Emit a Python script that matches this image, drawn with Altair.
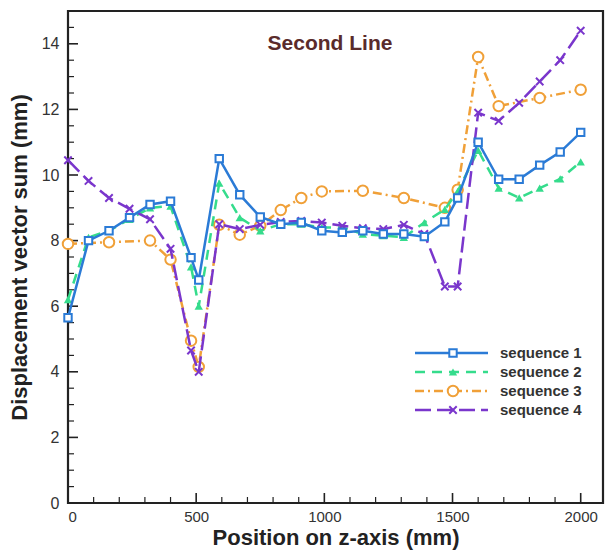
import altair as alt
import pandas as pd

# ---------------- data ----------------
Z_NODES = [0, 80, 160, 240, 320, 400, 480, 510, 590, 670, 750, 830, 910, 990,
           1070, 1150, 1230, 1310, 1390, 1470, 1520, 1600, 1680, 1760, 1840, 1920, 2000]
SEQ1 = [5.65, 8.0, 8.3, 8.7, 9.1, 9.2, 7.48, 6.8, 10.5, 9.4, 8.72, 8.5, 8.55, 8.3,
        8.25, 8.3, 8.2, 8.2, 8.12, 8.57, 9.3, 11.0, 9.87, 9.87, 10.3, 10.7, 11.3]
SEQ2 = [6.2, 8.1, 8.3, 8.65, 9.0, 9.05, 7.2, 6.0, 9.75, 8.7, 8.3, 8.5, 8.5, 8.4,
        8.4, 8.2, 8.15, 8.1, 8.55, 8.95, 9.5, 10.75, 9.6, 9.3, 9.6, 9.88, 10.4]
Z_SEQ3 = [0, 160, 320, 400, 480, 510, 590, 670, 750, 830, 910, 990, 1150, 1310,
          1470, 1520, 1600, 1680, 1840, 2000]
SEQ3 = [7.9, 7.95, 8.0, 7.42, 4.95, 4.15, 8.48, 8.18, 8.45, 8.93, 9.3, 9.5, 9.52, 9.3,
        9.0, 9.55, 13.6, 12.1, 12.35, 12.6]
SEQ4 = [10.45, 9.82, 9.3, 8.97, 8.65, 7.75, 4.65, 4.0, 8.5, 8.35, 8.48, 8.57, 8.6, 8.55,
        8.45, 8.38, 8.35, 8.48, 8.2, 6.6, 6.6, 11.9, 11.65, 12.2, 12.85, 13.5, 14.4]

NAMES = ["sequence 1", "sequence 2", "sequence 3", "sequence 4"]
TITLE = "Second Line"
X_TICKS = [0, 500, 1000, 1500, 2000]
Y_TICKS = [0, 2, 4, 6, 8, 10, 12, 14]
X_MINOR = [v for v in range(100, 2001, 100) if v % 500]
Y_MINOR = [v / 2 for v in range(1, 30) if v % 4]

# ---------------- styling ----------------
FONT = "Liberation Sans"
W, H = 535, 492
INK = "#222222"

STYLES = [
    dict(color="#2b7bd6", dash=None, shape="square", filled=False, size=55),
    dict(color="#35dc8c", dash=[10, 7], shape="triangle-up", filled=True, size=70),
    dict(color="#f0a038", dash=[9, 4, 2, 4], shape="circle", filled=False, size=110),
    dict(color="#7a36cc", dash=[16, 6], shape="M-1,-1L1,1M-1,1L1,-1", filled=False, size=55),
]

xscale = alt.Scale(domain=[0, 2087], nice=False, zero=False)
yscale = alt.Scale(domain=[0, 15], nice=False, zero=False)

X_ENC = alt.X("z:Q", scale=xscale, axis=alt.Axis(
    values=X_TICKS, format="d", ticks=False, domain=False, grid=False,
    labelFont=FONT, labelFontSize=15, labelColor="#333", labelPadding=6,
    title="Position on z-axis (mm)", titleFont=FONT, titleFontSize=22,
    titleFontWeight="bold", titleColor="#222", titlePadding=3))
Y_ENC = alt.Y("d:Q", scale=yscale, axis=alt.Axis(
    values=Y_TICKS, format="d", ticks=False, domain=False, grid=False,
    labelFont=FONT, labelFontSize=16, labelColor="#333", labelPadding=9,
    title="Displacement vector sum (mm)", titleFont=FONT, titleFontSize=22,
    titleFontWeight="bold", titleColor="#222", titlePadding=10))


def line_kwargs(st):
    kw = dict(color=st["color"], strokeWidth=2.5, clip=False)
    if st["dash"]:
        kw["strokeDash"] = st["dash"]
    return kw


def point_kwargs(st):
    kw = dict(shape=st["shape"], size=st["size"], strokeWidth=2, opacity=1, clip=False)
    if st["filled"]:
        kw.update(filled=True, color=st["color"])
    else:
        kw.update(filled=False, stroke=st["color"])
        if st["shape"] in ("square", "circle"):
            kw.update(fill="white", fillOpacity=1)
    return kw


series = [(Z_NODES, SEQ1), (Z_NODES, SEQ2), (Z_SEQ3, SEQ3), (Z_NODES, SEQ4)]
draw_order = [2, 1, 3, 0]

layers = []
# tick marks (inward)
layers.append(alt.Chart(pd.DataFrame({"z": X_TICKS})).mark_rule(color=INK, strokeWidth=1.6)
              .encode(x=X_ENC, y=alt.value(H), y2=alt.value(H - 10)))
layers.append(alt.Chart(pd.DataFrame({"z": X_MINOR})).mark_rule(color=INK, strokeWidth=1.2)
              .encode(x=X_ENC, y=alt.value(H), y2=alt.value(H - 6)))
layers.append(alt.Chart(pd.DataFrame({"d": Y_TICKS})).mark_rule(color=INK, strokeWidth=1.6)
              .encode(y=Y_ENC, x=alt.value(0), x2=alt.value(10)))
layers.append(alt.Chart(pd.DataFrame({"d": Y_MINOR})).mark_rule(color=INK, strokeWidth=1.2)
              .encode(y=Y_ENC, x=alt.value(0), x2=alt.value(6)))

for i in draw_order:
    zs, ds = series[i]
    st = STYLES[i]
    df = pd.DataFrame({"z": zs, "d": ds})
    base = alt.Chart(df)
    layers.append(base.mark_line(**line_kwargs(st)).encode(x=X_ENC, y=Y_ENC))
    layers.append(base.mark_point(**point_kwargs(st)).encode(x=X_ENC, y=Y_ENC))

# title annotation
one = pd.DataFrame({"a": [0]})
layers.append(alt.Chart(one).mark_text(text=TITLE, font=FONT, fontSize=21, fontWeight="bold",
                                       color="#5a2b2b", baseline="middle", align="center")
              .encode(x=alt.value(262), y=alt.value(33)))

# manual legend
LEG_X0, LEG_X1, LEG_MID, LEG_TXT = 347, 420, 385, 432
LEG_Y = [342, 361, 380, 399]
for i, name in enumerate(NAMES):
    st = STYLES[i]
    yy = LEG_Y[i]
    layers.append(alt.Chart(one).mark_rule(**line_kwargs(st))
                  .encode(x=alt.value(LEG_X0), x2=alt.value(LEG_X1), y=alt.value(yy)))
    layers.append(alt.Chart(one).mark_point(**point_kwargs(st))
                  .encode(x=alt.value(LEG_MID), y=alt.value(yy)))
    layers.append(alt.Chart(one).mark_text(text=name, font=FONT, fontSize=15, fontWeight="bold",
                                           color="#333", align="left", baseline="middle")
                  .encode(x=alt.value(LEG_TXT), y=alt.value(yy)))

chart = alt.layer(*layers).properties(
    width=W, height=H,
    autosize=alt.AutoSizeParams(type="none"),
    padding={"left": 68, "top": 11, "right": 3, "bottom": 48},
    background="white",
).configure_view(stroke=INK, strokeWidth=2.2)

chart.save("out.html", embed_options={"renderer": "svg", "actions": False})
